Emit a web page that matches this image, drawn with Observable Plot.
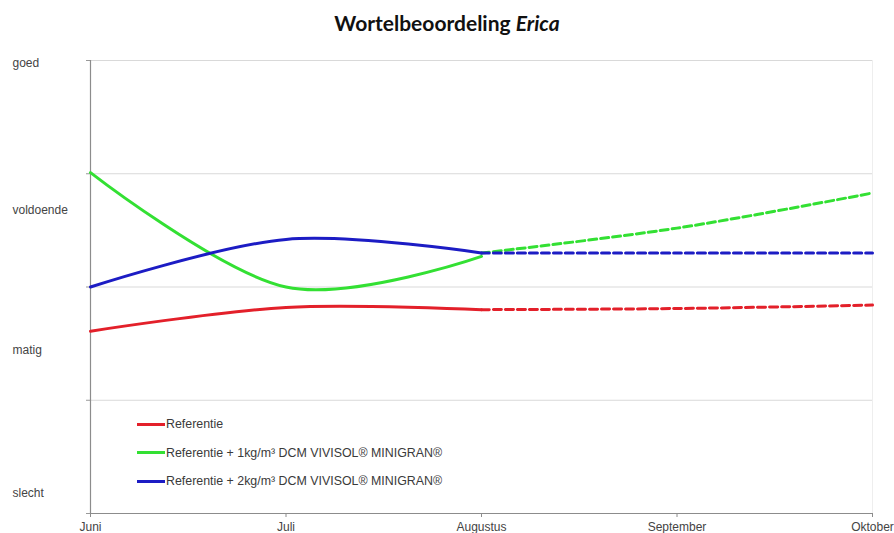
<!DOCTYPE html>
<html>
<head>
<meta charset="utf-8">
<script src="https://cdn.jsdelivr.net/npm/d3@7"></script>
<script src="https://cdn.jsdelivr.net/npm/@observablehq/plot@0.6"></script>
<style>
  body { margin: 0; background: #fff; }
  #wrap { position: relative; width: 894px; height: 533px; overflow: hidden; }
  #title { box-sizing: border-box; height: 45px; padding-top: 10px; line-height: 24px; text-align: center; font: bold 21px Lato, "Open Sans", sans-serif; color: #111; }
  #title i { font-style: italic; }
  #legend { position: absolute; left: 137px; top: 410px; font: 12.4px "Liberation Sans", Arial, sans-serif; color: #3a3a3a; }
  #legend .row { height: 28.5px; display: flex; align-items: center; }
  #legend .row span.swatch { display: inline-block; width: 28px; height: 3px; margin-right: 1px; }
</style>
</head>
<body>
<div id="wrap">
  <div id="title">Wortelbeoordeling <i>Erica</i></div>
  <div id="chart"></div>
  <div id="legend"></div>
</div>
<script>
// Months on the horizontal axis
const months = ["Juni", "Juli", "Augustus", "September", "Oktober"];

// Rating scale (0 = slecht ... 4 = goed) and where each word sits on it
const ratingLabels = ["slecht", "matig", "voldoende", "goed"];
const ratingLabelAt = [0.18, 1.44, 2.68, 3.98];

// Series names
const seriesNames = [
  "Referentie",
  "Referentie + 1kg/m³ DCM VIVISOL® MINIGRAN®",
  "Referentie + 2kg/m³ DCM VIVISOL® MINIGRAN®"
];
const seriesColors = ["#e3202a", "#33e033", "#1c1cc4"];

// Observed ratings, Juni – Augustus
const refObserved = [1.61, 1.82, 1.80];
const dose1Observed = [3.01, 2.00, 2.27];
const dose2Observed = [2.00, 2.42, 2.30];

// Expected ratings, Augustus – Oktober
const refExpected = [1.80, 1.81, 1.84];
const dose1Expected = [2.30, 2.52, 2.83];
const dose2Expected = [2.30, 2.30, 2.30];

const observed = [refObserved, dose1Observed, dose2Observed]
  .flatMap((vals, s) => vals.map((v, i) => ({month: i, rating: v, series: seriesNames[s]})));
const expected = [refExpected, dose1Expected, dose2Expected]
  .flatMap((vals, s) => vals.map((v, i) => ({month: i + 2, rating: v, series: seriesNames[s]})));

const chart = Plot.plot({
  width: 894,
  height: 488,
  marginTop: 15,
  marginBottom: 20,
  marginLeft: 90,
  marginRight: 22,
  style: {fontFamily: "'Liberation Sans', Arial, sans-serif", fontSize: "12px", color: "#444", background: "#fff", overflow: "visible"},
  x: {type: "linear", domain: [0, 4], axis: null},
  y: {type: "linear", domain: [0, 4], axis: null},
  color: {domain: seriesNames, range: seriesColors},
  marks: [
    // horizontal gridlines
    Plot.ruleY([1, 2, 3, 4], {stroke: "#d9d9d9", strokeWidth: 1}),
    // faint right border
    Plot.ruleX([4], {stroke: "#eeeeee", strokeWidth: 1}),
    // y tick marks at the gridlines
    Plot.axisY({ticks: [0, 1, 2, 3, 4], tickSize: 4, tickFormat: () => "", stroke: "#999", label: null}),
    // axis lines
    Plot.ruleX([0], {stroke: "#8c8c8c", strokeWidth: 1.2}),
    Plot.ruleY([0], {stroke: "#8c8c8c", strokeWidth: 1.2}),
    Plot.axisX({
      ticks: [0, 1, 2, 3, 4],
      tickFormat: i => months[i],
      tickSize: 4,
      tickPadding: 5,
      stroke: "#8c8c8c",
      fill: "#444",
      label: null
    }),
    // rating words on the left
    Plot.text(ratingLabelAt, {
      y: d => d,
      text: (d, i) => ratingLabels[i],
      frameAnchor: "left",
      textAnchor: "start",
      dx: -78,
      fill: "#444"
    }),
    // expected part (dashed)
    Plot.line(expected, {
      x: "month", y: "rating", z: "series", stroke: "series",
      strokeWidth: 3, strokeDasharray: "8,4",
      curve: "cardinal", tension: 0
    }),
    // observed part (solid)
    Plot.line(observed, {
      x: "month", y: "rating", z: "series", stroke: "series",
      strokeWidth: 3, curve: "cardinal", tension: 0
    })
  ]
});
document.getElementById("chart").appendChild(chart);

// Legend inside the plot area
const legend = document.getElementById("legend");
seriesNames.forEach((name, i) => {
  const row = document.createElement("div");
  row.className = "row";
  const sw = document.createElement("span");
  sw.className = "swatch";
  sw.style.background = seriesColors[i];
  const label = document.createElement("span");
  label.textContent = name;
  row.appendChild(sw);
  row.appendChild(label);
  legend.appendChild(row);
});
</script>
</body>
</html>
